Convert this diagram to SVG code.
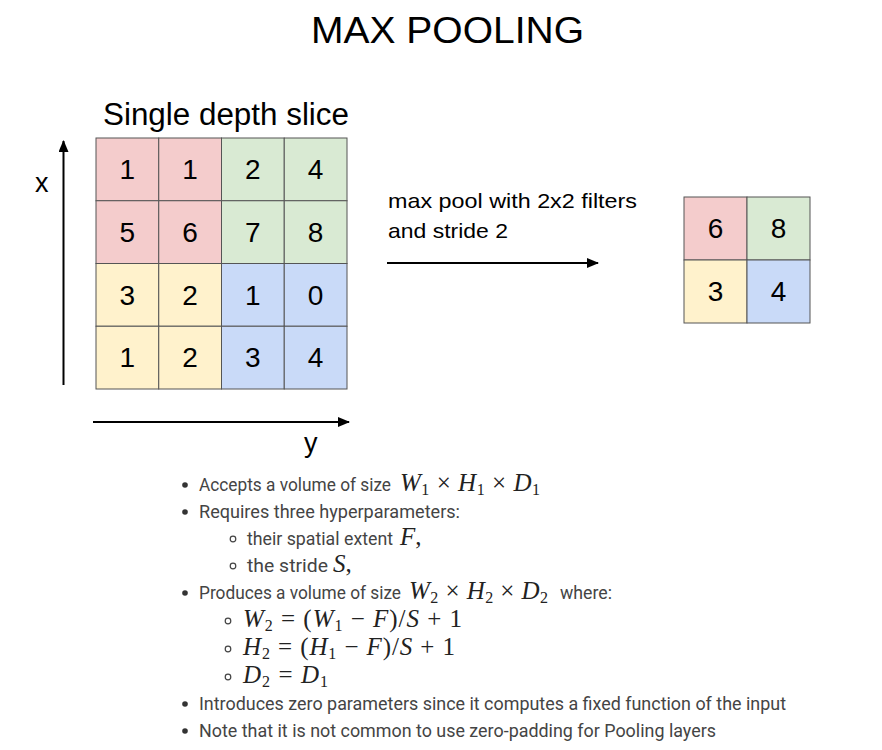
<svg xmlns="http://www.w3.org/2000/svg" width="882" height="750" viewBox="0 0 882 750">
<style>
.ar{font-family:"Liberation Sans",Arial,sans-serif;fill:#000}
.num{font-family:"Liberation Sans",Arial,sans-serif;font-size:28px;text-anchor:middle;fill:#000}
.cell{stroke:#555;stroke-width:1}
.r{fill:#f4cccc}.g{fill:#d9ead3}.y{fill:#fff2cc}.b{fill:#c9daf8}
.body{font-family:Roboto,"Noto Sans",sans-serif;font-size:18.5px;fill:#444}
.m{font-family:"Liberation Serif","Times New Roman",serif;font-size:25px;fill:#222}
.i{font-style:italic}
.sub{font-size:16px}
.arrow{stroke:#000;stroke-width:2;fill:none}
.dot{fill:#333}
.hollow{fill:none;stroke:#444;stroke-width:1.2}
</style>
<defs>
<marker id="ah" markerUnits="userSpaceOnUse" markerWidth="12" markerHeight="10" refX="11" refY="5" orient="auto">
<path d="M0,0 L12,5 L0,10 z" fill="#000"/>
</marker>
</defs>
<rect width="882" height="750" fill="#fff"/>
<text id="title" class="ar" x="311" y="43" font-size="36" textLength="273" lengthAdjust="spacingAndGlyphs">MAX POOLING</text>
<text id="slice-label" class="ar" x="103" y="125" font-size="31" textLength="246" lengthAdjust="spacingAndGlyphs">Single depth slice</text>
<text id="x-label" class="ar" x="35" y="192" font-size="27">x</text>
<text id="y-label" class="ar" x="304" y="452" font-size="27">y</text>
<g id="input-grid">
<g id="c00"><rect class="cell r" x="96" y="138" width="62.75" height="62.75"/><text class="num" x="127.4" y="179">1</text></g>
<g id="c01"><rect class="cell r" x="158.75" y="138" width="62.75" height="62.75"/><text class="num" x="190.1" y="179">1</text></g>
<g id="c02"><rect class="cell g" x="221.5" y="138" width="62.75" height="62.75"/><text class="num" x="252.9" y="179">2</text></g>
<g id="c03"><rect class="cell g" x="284.25" y="138" width="62.75" height="62.75"/><text class="num" x="315.6" y="179">4</text></g>
<g id="c10"><rect class="cell r" x="96" y="200.75" width="62.75" height="62.75"/><text class="num" x="127.4" y="241.75">5</text></g>
<g id="c11"><rect class="cell r" x="158.75" y="200.75" width="62.75" height="62.75"/><text class="num" x="190.1" y="241.75">6</text></g>
<g id="c12"><rect class="cell g" x="221.5" y="200.75" width="62.75" height="62.75"/><text class="num" x="252.9" y="241.75">7</text></g>
<g id="c13"><rect class="cell g" x="284.25" y="200.75" width="62.75" height="62.75"/><text class="num" x="315.6" y="241.75">8</text></g>
<g id="c20"><rect class="cell y" x="96" y="263.5" width="62.75" height="62.75"/><text class="num" x="127.4" y="304.5">3</text></g>
<g id="c21"><rect class="cell y" x="158.75" y="263.5" width="62.75" height="62.75"/><text class="num" x="190.1" y="304.5">2</text></g>
<g id="c22"><rect class="cell b" x="221.5" y="263.5" width="62.75" height="62.75"/><text class="num" x="252.9" y="304.5">1</text></g>
<g id="c23"><rect class="cell b" x="284.25" y="263.5" width="62.75" height="62.75"/><text class="num" x="315.6" y="304.5">0</text></g>
<g id="c30"><rect class="cell y" x="96" y="326.25" width="62.75" height="62.75"/><text class="num" x="127.4" y="367.25">1</text></g>
<g id="c31"><rect class="cell y" x="158.75" y="326.25" width="62.75" height="62.75"/><text class="num" x="190.1" y="367.25">2</text></g>
<g id="c32"><rect class="cell b" x="221.5" y="326.25" width="62.75" height="62.75"/><text class="num" x="252.9" y="367.25">3</text></g>
<g id="c33"><rect class="cell b" x="284.25" y="326.25" width="62.75" height="62.75"/><text class="num" x="315.6" y="367.25">4</text></g>
</g>
<g id="output-grid">
<g id="o00"><rect class="cell r" x="684" y="197" width="63" height="63"/><text class="num" x="715.5" y="238">6</text></g>
<g id="o01"><rect class="cell g" x="747" y="197" width="63" height="63"/><text class="num" x="778.5" y="238">8</text></g>
<g id="o10"><rect class="cell y" x="684" y="260" width="63" height="63"/><text class="num" x="715.5" y="301">3</text></g>
<g id="o11"><rect class="cell b" x="747" y="260" width="63" height="63"/><text class="num" x="778.5" y="301">4</text></g>
</g>
<g id="op-label">
<text class="ar" x="388" y="208" font-size="21" textLength="249" lengthAdjust="spacingAndGlyphs">max pool with 2x2 filters</text>
<text class="ar" x="388" y="238" font-size="21" textLength="120" lengthAdjust="spacingAndGlyphs">and stride 2</text>
</g>
<g id="connectors">
<line class="arrow" x1="63.5" y1="385" x2="63.5" y2="141" marker-end="url(#ah)"/>
<line class="arrow" x1="93" y1="422" x2="349" y2="422" marker-end="url(#ah)"/>
<line class="arrow" x1="387" y1="263" x2="598" y2="263" marker-end="url(#ah)"/>
</g>
<g id="notes">
<circle class="dot" cx="185" cy="485" r="2.8"/>
<text class="body" x="199" y="491" textLength="192" lengthAdjust="spacingAndGlyphs">Accepts a volume of size</text>
<text class="m" x="400" y="491" textLength="140" lengthAdjust="spacing"><tspan class="i">W</tspan><tspan class="sub" dy="4">1</tspan><tspan dy="-4"> × </tspan><tspan class="i">H</tspan><tspan class="sub" dy="4">1</tspan><tspan dy="-4"> × </tspan><tspan class="i">D</tspan><tspan class="sub" dy="4">1</tspan></text>
<circle class="dot" cx="185" cy="512" r="2.8"/>
<text class="body" x="199" y="518" textLength="261" lengthAdjust="spacingAndGlyphs">Requires three hyperparameters:</text>
<circle class="hollow" cx="233" cy="539" r="2.8"/>
<text class="body" x="247" y="545" textLength="146" lengthAdjust="spacingAndGlyphs">their spatial extent</text>
<text class="m" x="400" y="545"><tspan class="i">F</tspan>,</text>
<circle class="hollow" cx="233" cy="566" r="2.8"/>
<text class="body" x="247" y="572" textLength="81" lengthAdjust="spacingAndGlyphs">the stride</text>
<text class="m" x="333" y="572"><tspan class="i">S</tspan>,</text>
<circle class="dot" cx="185" cy="593" r="2.8"/>
<text class="body" x="199" y="599" textLength="202" lengthAdjust="spacingAndGlyphs">Produces a volume of size</text>
<text class="m" x="409" y="599" textLength="139" lengthAdjust="spacing"><tspan class="i">W</tspan><tspan class="sub" dy="4">2</tspan><tspan dy="-4"> × </tspan><tspan class="i">H</tspan><tspan class="sub" dy="4">2</tspan><tspan dy="-4"> × </tspan><tspan class="i">D</tspan><tspan class="sub" dy="4">2</tspan></text>
<text class="body" x="560" y="599" textLength="52" lengthAdjust="spacingAndGlyphs">where:</text>
<circle class="hollow" cx="228" cy="621" r="2.8"/>
<text class="m" x="243" y="627" textLength="219" lengthAdjust="spacing"><tspan class="i">W</tspan><tspan class="sub" dy="4">2</tspan><tspan dy="-4"> = (</tspan><tspan class="i">W</tspan><tspan class="sub" dy="4">1</tspan><tspan dy="-4"> − </tspan><tspan class="i">F</tspan>)/<tspan class="i">S</tspan> + 1</text>
<circle class="hollow" cx="228" cy="649" r="2.8"/>
<text class="m" x="243" y="655" textLength="212" lengthAdjust="spacing"><tspan class="i">H</tspan><tspan class="sub" dy="4">2</tspan><tspan dy="-4"> = (</tspan><tspan class="i">H</tspan><tspan class="sub" dy="4">1</tspan><tspan dy="-4"> − </tspan><tspan class="i">F</tspan>)/<tspan class="i">S</tspan> + 1</text>
<circle class="hollow" cx="228" cy="677" r="2.8"/>
<text class="m" x="243" y="683" textLength="85" lengthAdjust="spacing"><tspan class="i">D</tspan><tspan class="sub" dy="4">2</tspan><tspan dy="-4"> = </tspan><tspan class="i">D</tspan><tspan class="sub" dy="4">1</tspan></text>
<circle class="dot" cx="185" cy="704" r="2.8"/>
<text class="body" x="199" y="710" textLength="587" lengthAdjust="spacingAndGlyphs">Introduces zero parameters since it computes a fixed function of the input</text>
<circle class="dot" cx="185" cy="731" r="2.8"/>
<text class="body" x="199" y="737" textLength="517" lengthAdjust="spacingAndGlyphs">Note that it is not common to use zero-padding for Pooling layers</text>
</g>
</svg>
